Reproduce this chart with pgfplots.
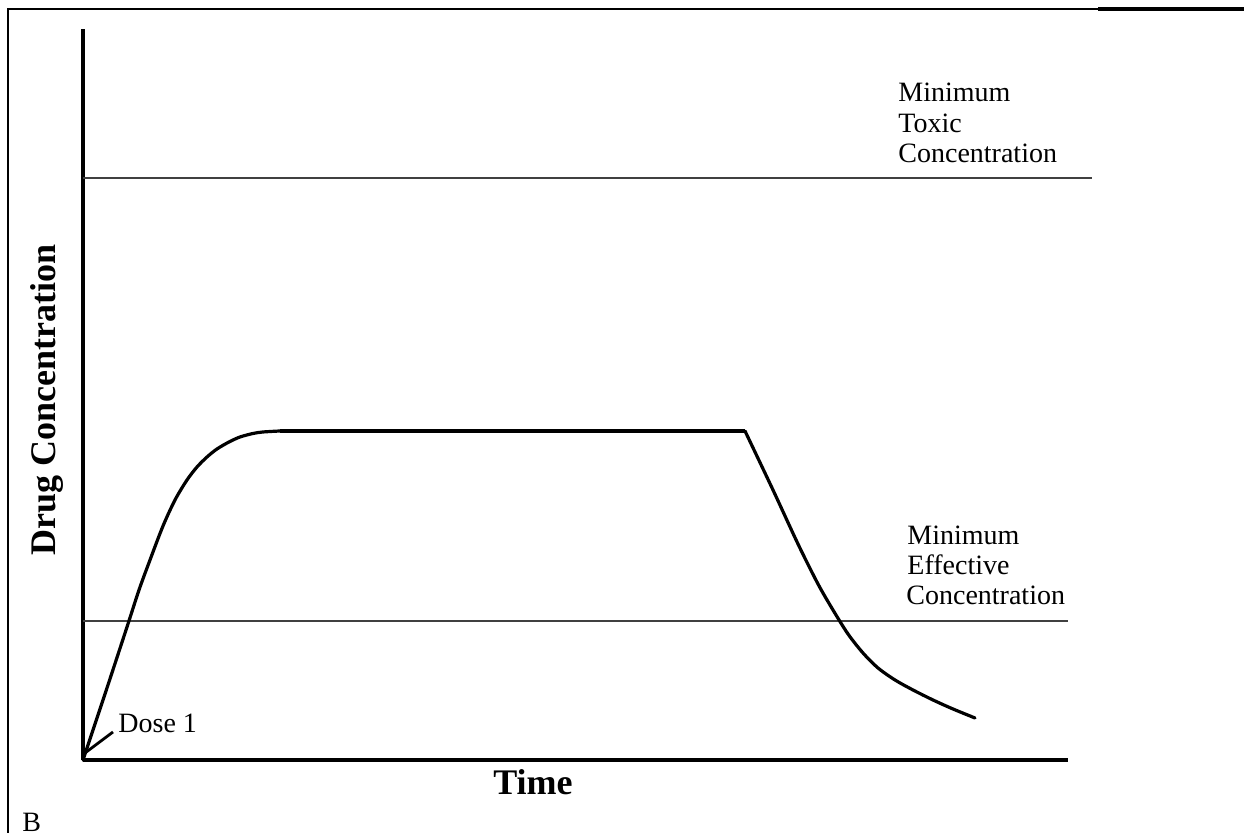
\documentclass[border=0pt]{standalone}
\usepackage{fontspec}
\setmainfont{Liberation Serif}
\usepackage{pgfplots}
\pgfplotsset{compat=1.18}
\begin{document}
\begin{tikzpicture}
\begin{axis}[
  name=ax,
  at={(0pt,0pt)}, anchor=south west,
  x=0.5pt, y=0.5pt,
  xmin=0, xmax=985, ymin=0, ymax=731,
  axis x line=bottom, axis y line=left,
  axis line style={line width=2pt, -},
  xtick=\empty, ytick=\empty,
  clip=false,
]
% minimum toxic / effective concentration lines
\addplot[color=black!75, line width=0.7pt] coordinates {(0,582) (1009,582)};
\addplot[color=black!75, line width=0.7pt] coordinates {(0,139) (985,139)};
% drug concentration curve
\addplot[black, line width=1.6pt, smooth, tension=0.5, line cap=round] coordinates {
 (0,0) (22,66) (44,133) (56,170) (67,200) (80,234) (92,260) (104,280) (114,293) (124,303) (134,311) (146,318) (157,323) (170,326.5) (180,328) (197,329)};
\addplot[black, line width=1.6pt] coordinates {(197,329) (662,329)};
\addplot[black, line width=1.6pt, smooth, tension=0.5, line cap=round] coordinates {
 (662,329) (690,270) (715,216) (735,176) (750,150) (765,126) (780,107) (795,92) (812,80) (830,70) (850,60) (870,51) (892,42)};
% Dose 1 pointer
\addplot[black, line width=1.4pt] coordinates {(2,7) (30,28)};
\node[anchor=base west, inner sep=0pt, font=\fontsize{14}{15}\selectfont] at (axis cs:35,27) {Dose 1};
% labels
\node[anchor=base west, inner sep=0pt, font=\fontsize{14}{15}\selectfont] at (axis cs:815,658) {Minimum};
\node[anchor=base west, inner sep=0pt, font=\fontsize{14}{15}\selectfont] at (axis cs:815,627) {Toxic};
\node[anchor=base west, inner sep=0pt, font=\fontsize{14}{15}\selectfont] at (axis cs:815,597) {Concentration};
\node[anchor=base west, inner sep=0pt, font=\fontsize{14}{15}\selectfont] at (axis cs:824,215) {Minimum};
\node[anchor=base west, inner sep=0pt, font=\fontsize{14}{15}\selectfont] at (axis cs:824,185) {Effective};
\node[anchor=base west, inner sep=0pt, font=\fontsize{14}{15}\selectfont] at (axis cs:823,155) {Concentration};
\node[anchor=base, inner sep=0pt, font=\fontsize{18}{20}\selectfont\bfseries] at (axis cs:450,-35) {Time};
\node[anchor=center, rotate=90, inner sep=0pt, font=\fontsize{18}{20}\selectfont\bfseries] at (axis cs:-36,360) {Drug Concentration};
% frame
\addplot[black, line width=1pt] coordinates {(-75,-80) (-75,751) (1015,751)};
\addplot[black, line width=1.6pt] coordinates {(1015,751) (1170,751)};
\node[anchor=base west, inner sep=0pt, font=\fontsize{14}{15}\selectfont] at (axis cs:-61,-72) {B};
\end{axis}
\pgfresetboundingbox
\path (-41.5pt,-36.5pt) rectangle (580.5pt,380pt);
\end{tikzpicture}
\end{document}
